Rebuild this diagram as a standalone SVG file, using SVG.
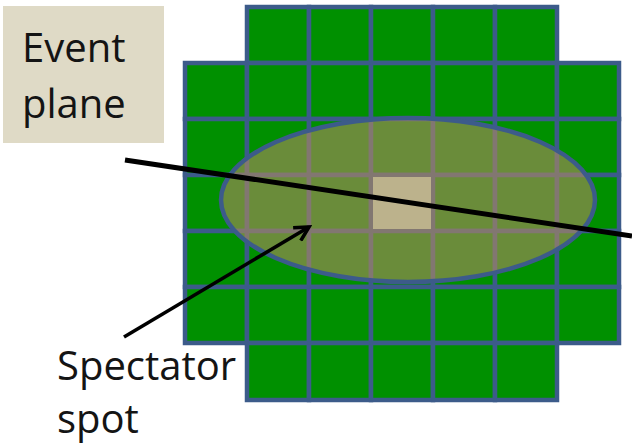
<svg xmlns="http://www.w3.org/2000/svg" width="632" height="445" viewBox="0 0 632 445">
  <defs>
    <style>
      .cell { fill: #009000; stroke: #3c5b8a; stroke-width: 4.5; }
      .label { font-family: "Open Sans", "Liberation Sans", sans-serif; font-size: 40px; font-weight: 500; fill: #141414; }
    </style>
    <marker id="openHead" viewBox="0 0 18 18" refX="15" refY="9" markerWidth="18" markerHeight="18" markerUnits="userSpaceOnUse" orient="auto">
      <polyline points="1,1.5 15,9 1,16.5" fill="none" stroke="#000" stroke-width="3.6"/>
    </marker>
  </defs>

  <rect width="632" height="445" fill="#ffffff"/>

  <!-- detector grid: 7x7 cells with the four corners removed -->
  <g id="grid">
    <!-- top row -->
    <rect class="cell" x="247" y="7" width="62" height="56"/>
    <rect class="cell" x="309" y="7" width="62" height="56"/>
    <rect class="cell" x="371" y="7" width="62" height="56"/>
    <rect class="cell" x="433" y="7" width="62" height="56"/>
    <rect class="cell" x="495" y="7" width="62" height="56"/>
    <!-- rows 2-6 -->
    <rect class="cell" x="185" y="63" width="62" height="56"/>
    <rect class="cell" x="247" y="63" width="62" height="56"/>
    <rect class="cell" x="309" y="63" width="62" height="56"/>
    <rect class="cell" x="371" y="63" width="62" height="56"/>
    <rect class="cell" x="433" y="63" width="62" height="56"/>
    <rect class="cell" x="495" y="63" width="62" height="56"/>
    <rect class="cell" x="557" y="63" width="62" height="56"/>

    <rect class="cell" x="185" y="119" width="62" height="56"/>
    <rect class="cell" x="247" y="119" width="62" height="56"/>
    <rect class="cell" x="309" y="119" width="62" height="56"/>
    <rect class="cell" x="371" y="119" width="62" height="56"/>
    <rect class="cell" x="433" y="119" width="62" height="56"/>
    <rect class="cell" x="495" y="119" width="62" height="56"/>
    <rect class="cell" x="557" y="119" width="62" height="56"/>

    <rect class="cell" x="185" y="175" width="62" height="56"/>
    <rect class="cell" x="247" y="175" width="62" height="56"/>
    <rect class="cell" x="309" y="175" width="62" height="56"/>
    <rect class="cell" x="371" y="175" width="62" height="56"/>
    <rect class="cell" x="433" y="175" width="62" height="56"/>
    <rect class="cell" x="495" y="175" width="62" height="56"/>
    <rect class="cell" x="557" y="175" width="62" height="56"/>

    <rect class="cell" x="185" y="231" width="62" height="56"/>
    <rect class="cell" x="247" y="231" width="62" height="56"/>
    <rect class="cell" x="309" y="231" width="62" height="56"/>
    <rect class="cell" x="371" y="231" width="62" height="56"/>
    <rect class="cell" x="433" y="231" width="62" height="56"/>
    <rect class="cell" x="495" y="231" width="62" height="56"/>
    <rect class="cell" x="557" y="231" width="62" height="56"/>

    <rect class="cell" x="185" y="287" width="62" height="56"/>
    <rect class="cell" x="247" y="287" width="62" height="56"/>
    <rect class="cell" x="309" y="287" width="62" height="56"/>
    <rect class="cell" x="371" y="287" width="62" height="56"/>
    <rect class="cell" x="433" y="287" width="62" height="56"/>
    <rect class="cell" x="495" y="287" width="62" height="56"/>
    <rect class="cell" x="557" y="287" width="62" height="56"/>
    <!-- bottom row -->
    <rect class="cell" x="247" y="343" width="62" height="57"/>
    <rect class="cell" x="309" y="343" width="62" height="57"/>
    <rect class="cell" x="371" y="343" width="62" height="57"/>
    <rect class="cell" x="433" y="343" width="62" height="57"/>
    <rect class="cell" x="495" y="343" width="62" height="57"/>
  </g>

  <!-- overlap region of the collision -->
  <g id="overlap">
    <ellipse cx="408" cy="200" rx="187" ry="82" fill="#b08a60" fill-opacity="0.6" stroke="#3c5b8a" stroke-width="4.5"/>
  </g>

  <!-- central spectator cell -->
  <g id="spectator-cell">
    <rect x="373" y="177" width="58" height="52" fill="#bcb28c"/>
  </g>

  <!-- event plane label -->
  <g id="event-plane-label">
    <rect x="3" y="6" width="161" height="137" fill="#dfdac6"/>
    <text class="label" x="22" y="62">Event</text>
    <text class="label" x="22" y="118">plane</text>
  </g>

  <!-- spectator spot label -->
  <g id="spectator-label">
    <text class="label" x="57" y="380">Spectator</text>
    <text class="label" x="57" y="433">spot</text>
  </g>

  <g id="connectors">
    <line x1="125" y1="160" x2="632" y2="236" stroke="#000" stroke-width="5"/>
    <line x1="124" y1="337" x2="309" y2="227" stroke="#000" stroke-width="3.6" marker-end="url(#openHead)"/>
  </g>
</svg>
